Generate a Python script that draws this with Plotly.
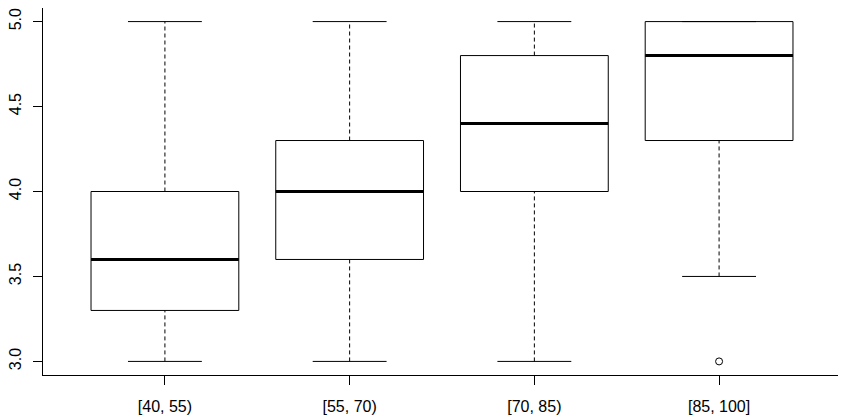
import plotly.graph_objects as go

# ---- data ----
categories = ["[40, 55)", "[55, 70)", "[70, 85)", "[85, 100]"]
lower_whisker = [3.0, 3.0, 3.0, 3.5]
q1 = [3.3, 3.6, 4.0, 4.3]
median = [3.6, 4.0, 4.4, 4.8]
q3 = [4.0, 4.3, 4.8, 5.0]
upper_whisker = [5.0, 5.0, 5.0, 5.0]
outlier_group = ["[85, 100]"]
outlier_value = [3.0]
y_ticks = [3.0, 3.5, 4.0, 4.5, 5.0]

# ---- style ----
BOX_HALF = 0.4
CAP_HALF = 0.2
FONT = "Liberation Sans, Arial, sans-serif"

pos = list(range(1, len(categories) + 1))

box_x, box_y = [], []
med_x, med_y = [], []
wh_x, wh_y = [], []
cap_x, cap_y = [], []
for p, lo, a, m, b, hi in zip(pos, lower_whisker, q1, median, q3, upper_whisker):
    box_x += [p - BOX_HALF, p + BOX_HALF, p + BOX_HALF, p - BOX_HALF, p - BOX_HALF, None]
    box_y += [a, a, b, b, a, None]
    med_x += [p - BOX_HALF, p + BOX_HALF, None]
    med_y += [m, m, None]
    if hi > b:
        wh_x += [p, p, None]
        wh_y += [b, hi, None]
    if lo < a:
        wh_x += [p, p, None]
        wh_y += [lo, a, None]
    cap_x += [p - CAP_HALF, p + CAP_HALF, None, p - CAP_HALF, p + CAP_HALF, None]
    cap_y += [hi, hi, None, lo, lo, None]

out_x = [pos[categories.index(g)] for g in outlier_group]

fig = go.Figure()
fig.add_trace(go.Scatter(x=wh_x, y=wh_y, mode="lines",
                         line=dict(color="black", width=1, dash="4px,3px"),
                         hoverinfo="skip"))
fig.add_trace(go.Scatter(x=cap_x, y=cap_y, mode="lines",
                         line=dict(color="black", width=1), hoverinfo="skip"))
fig.add_trace(go.Scatter(x=box_x, y=box_y, mode="lines",
                         line=dict(color="black", width=1), hoverinfo="skip"))
fig.add_trace(go.Scatter(x=med_x, y=med_y, mode="lines",
                         line=dict(color="black", width=3), hoverinfo="skip"))
fig.add_trace(go.Scatter(x=out_x, y=outlier_value, mode="markers",
                         marker=dict(symbol="circle-open", size=7,
                                     color="black", line=dict(width=1)),
                         hoverinfo="skip"))

# the page body has an 8px margin, so the figure is sized to fit inside it
fig.update_layout(
    width=838, height=411,
    margin=dict(l=35, r=5, t=0, b=44, autoexpand=False),
    paper_bgcolor="white", plot_bgcolor="white",
    showlegend=False,
    font=dict(family=FONT, size=16, color="black"),
)
fig.update_xaxes(
    range=[0.34, len(categories) + 0.66],
    tickmode="array", tickvals=pos, ticktext=categories,
    showgrid=False, zeroline=False, automargin=False,
    showline=True, linecolor="black", linewidth=1, mirror=True,
    ticks="outside", ticklen=9, tickcolor="black", tickwidth=1,
    ticklabelstandoff=8, ticklabeloverflow="allow",
    tickfont=dict(family=FONT, size=16, color="black"),
)
fig.update_yaxes(
    range=[2.92, 5.08],
    tickmode="array", tickvals=y_ticks,
    ticktext=[f"{v:.1f}" for v in y_ticks],
    showgrid=False, zeroline=False, automargin=False,
    showline=True, linecolor="black", linewidth=1, mirror=True,
    ticks="outside", ticklen=9, tickcolor="black", tickwidth=1,
    tickangle=-90, ticklabelstandoff=6, ticklabeloverflow="allow",
    tickfont=dict(family=FONT, size=16, color="black"),
)

fig.write_html("out.html")
